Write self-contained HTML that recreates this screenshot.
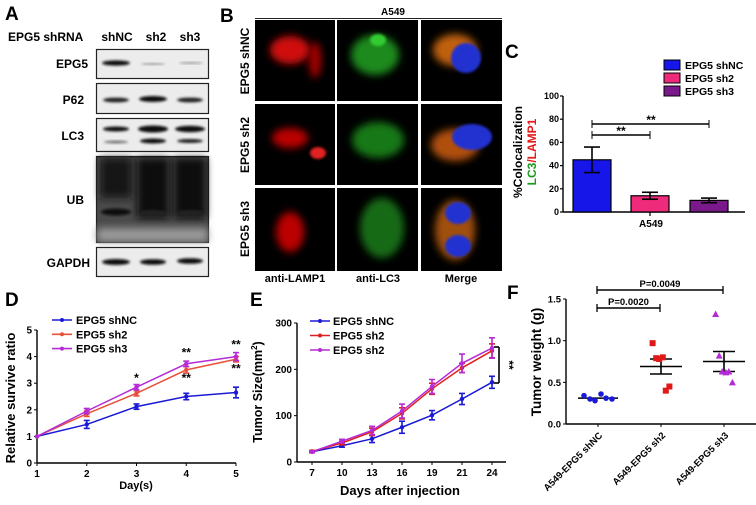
<!DOCTYPE html>
<html><head><meta charset="utf-8"><style>
html,body{margin:0;padding:0;background:#fff;}
svg{display:block;font-family:"Liberation Sans",Arial,sans-serif;}
text{font-weight:bold;}
</style></head><body>
<svg id="fig" width="756" height="505" viewBox="0 0 756 505" xmlns="http://www.w3.org/2000/svg">
<defs>
<filter id="bl" x="-50%" y="-50%" width="200%" height="200%"><feGaussianBlur stdDeviation="4"/></filter>
<filter id="bl2" x="-50%" y="-50%" width="200%" height="200%"><feGaussianBlur stdDeviation="1.2"/></filter>
<filter id="bl3" x="-20%" y="-20%" width="140%" height="140%"><feGaussianBlur stdDeviation="6"/></filter>
</defs>

<!-- Panel A -->
<g>
<text x="5" y="20" font-size="19">A</text>
<text x="8" y="41" font-size="12">EPG5 shRNA</text>
<text x="117" y="41" font-size="12" text-anchor="middle">shNC</text>
<text x="156" y="41" font-size="12" text-anchor="middle">sh2</text>
<text x="190" y="41" font-size="12" text-anchor="middle">sh3</text>
<g font-size="12" text-anchor="end">
<text x="88" y="68">EPG5</text>
<text x="84" y="104">P62</text>
<text x="84" y="140">LC3</text>
<text x="84" y="204">UB</text>
<text x="90" y="267">GAPDH</text>
</g>
<g><rect x="96.5" y="49.5" width="112" height="29" fill="#ececec" stroke="#222" stroke-width="1.2"/>
<ellipse cx="116" cy="63" rx="14" ry="2.6" fill="#111" filter="url(#bl2)"/><ellipse cx="153" cy="64" rx="12" ry="1" fill="#999" filter="url(#bl2)"/><ellipse cx="191" cy="63" rx="12" ry="1" fill="#999" filter="url(#bl2)"/></g>
<g><rect x="96.5" y="83.5" width="112" height="30" fill="#ececec" stroke="#222" stroke-width="1.2"/>
<ellipse cx="116" cy="100" rx="13" ry="2.4" fill="#222" filter="url(#bl2)"/><ellipse cx="153" cy="99" rx="14" ry="3" fill="#111" filter="url(#bl2)"/><ellipse cx="190" cy="100" rx="13" ry="2.4" fill="#222" filter="url(#bl2)"/></g>
<g><rect x="96.5" y="118.5" width="112" height="33" fill="#ececec" stroke="#222" stroke-width="1.2"/>
<ellipse cx="116" cy="129" rx="13" ry="2.5" fill="#111" filter="url(#bl2)"/><ellipse cx="116" cy="142" rx="12" ry="1.5" fill="#777" filter="url(#bl2)"/>
<ellipse cx="153" cy="129" rx="15" ry="3.5" fill="#111" filter="url(#bl2)"/><ellipse cx="153" cy="141" rx="13" ry="2.5" fill="#111" filter="url(#bl2)"/>
<ellipse cx="190" cy="129" rx="15" ry="3.2" fill="#111" filter="url(#bl2)"/><ellipse cx="190" cy="141" rx="13" ry="2" fill="#222" filter="url(#bl2)"/></g>
<g><rect x="96.5" y="156.5" width="112" height="86" fill="#4a4a4a" stroke="#222" stroke-width="1.2"/>
<rect x="100" y="158" width="32" height="40" fill="#181818" filter="url(#bl)"/><rect x="137" y="158" width="32" height="60" fill="#080808" filter="url(#bl)"/><rect x="174" y="158" width="32" height="60" fill="#080808" filter="url(#bl)"/>
<rect x="97" y="228" width="111" height="14" fill="#9a9a9a" filter="url(#bl)"/>
<ellipse cx="116" cy="212" rx="15" ry="3.5" fill="#111" filter="url(#bl2)"/><ellipse cx="153" cy="213" rx="15" ry="3" fill="#222" filter="url(#bl2)"/><ellipse cx="190" cy="213" rx="15" ry="3" fill="#222" filter="url(#bl2)"/></g>
<g><rect x="96.5" y="247.5" width="112" height="29" fill="#ececec" stroke="#222" stroke-width="1.2"/>
<ellipse cx="116" cy="262" rx="14" ry="3" fill="#111" filter="url(#bl2)"/><ellipse cx="153" cy="262" rx="13" ry="2.8" fill="#111" filter="url(#bl2)"/><ellipse cx="190" cy="261" rx="13" ry="2.8" fill="#111" filter="url(#bl2)"/></g>
</g>

<!-- Panel B -->
<g>
<text x="220" y="22" font-size="19">B</text>
<text x="393" y="15" font-size="10" text-anchor="middle">A549</text>
<line x1="255" y1="18.5" x2="502" y2="18.5" stroke="#222" stroke-width="1"/>
<g font-size="12">
<text transform="translate(249,61) rotate(-90)" text-anchor="middle">EPG5 shNC</text>
<text transform="translate(249,145) rotate(-90)" text-anchor="middle">EPG5 sh2</text>
<text transform="translate(249,229) rotate(-90)" text-anchor="middle">EPG5 sh3</text>
</g>
<g>
<rect x="255" y="20" width="80" height="81" fill="#000"/><rect x="337" y="20" width="81" height="81" fill="#000"/><rect x="421" y="20" width="81" height="81" fill="#000"/>
<rect x="255" y="104" width="80" height="81" fill="#000"/><rect x="337" y="104" width="81" height="81" fill="#000"/><rect x="421" y="104" width="81" height="81" fill="#000"/>
<rect x="255" y="188" width="80" height="83" fill="#000"/><rect x="337" y="188" width="81" height="83" fill="#000"/><rect x="421" y="188" width="81" height="83" fill="#000"/>
<ellipse cx="290" cy="50" rx="20" ry="14" fill="#d01010" filter="url(#bl)"/><ellipse cx="315" cy="60" rx="6" ry="18" fill="#a00" filter="url(#bl)"/>
<ellipse cx="375" cy="55" rx="24" ry="20" fill="#1a8a1a" filter="url(#bl)"/><ellipse cx="378" cy="40" rx="8" ry="6" fill="#3c3" filter="url(#bl2)"/>
<ellipse cx="455" cy="50" rx="22" ry="16" fill="#c06010" filter="url(#bl)"/><ellipse cx="466" cy="58" rx="15" ry="15" fill="#2030d0" filter="url(#bl2)"/>
<ellipse cx="290" cy="138" rx="18" ry="10" fill="#b00" filter="url(#bl)"/><ellipse cx="318" cy="153" rx="8" ry="6" fill="#e02020" filter="url(#bl2)"/>
<ellipse cx="378" cy="140" rx="26" ry="18" fill="#167816" filter="url(#bl)"/>
<ellipse cx="455" cy="145" rx="24" ry="16" fill="#b05010" filter="url(#bl)"/><ellipse cx="472" cy="137" rx="20" ry="13" fill="#2030d0" filter="url(#bl2)"/>
<ellipse cx="290" cy="232" rx="14" ry="20" fill="#b00" filter="url(#bl)"/>
<ellipse cx="382" cy="228" rx="22" ry="30" fill="#146a14" filter="url(#bl)"/>
<ellipse cx="455" cy="230" rx="20" ry="30" fill="#a05010" filter="url(#bl)"/><ellipse cx="458" cy="213" rx="13" ry="11" fill="#2030d0" filter="url(#bl2)"/><ellipse cx="458" cy="246" rx="13" ry="11" fill="#2030d0" filter="url(#bl2)"/>
</g>
<g font-size="11" text-anchor="middle">
<text x="295" y="282">anti-LAMP1</text>
<text x="378" y="282">anti-LC3</text>
<text x="461" y="282">Merge</text>
</g>
</g>

<text x="505" y="58" font-size="19">C</text>
<text x="5" y="306" font-size="19">D</text>
<text x="250" y="306" font-size="19">E</text>
<text x="507" y="299" font-size="19">F</text>
<g id="charts"></g>
</svg>
<script>
// ---- Panel C data
const cCats = ["EPG5 shNC","EPG5 sh2","EPG5 sh3"];
const cMeans = [45, 14, 10];
const cErr = [11, 3, 2];
const cTicks = [0,20,40,60,80,100];
// ---- Panel D data
const dDays = [1,2,3,4,5];
const dNC = [1,1.45,2.12,2.5,2.65];
const dNCerr = [0,0.15,0.1,0.12,0.2];
const dSh2 = [1,1.85,2.62,3.5,3.9];
const dSh2err = [0,0.1,0.1,0.12,0.1];
const dSh3 = [1,1.95,2.85,3.73,4.0];
const dSh3err = [0,0.1,0.1,0.1,0.15];
const dTicks = [0,1,2,3,4,5];
// ---- Panel E data
const eDays = ["7","10","13","16","19","21","24"];
const eNC = [22,35,50,75,101,136,172];
const eNCerr = [2,3,8,13,10,12,13];
const eSh2 = [23,41,65,105,158,203,240];
const eSh2err = [2,4,8,12,12,10,15];
const eSh3 = [22,45,68,110,163,213,246];
const eSh3err = [2,4,9,15,15,20,22];
const eTicks = [0,100,200,300];
// ---- Panel F data
const fCats = ["A549-EPG5 shNC","A549-EPG5 sh2","A549-EPG5 sh3"];
const fNC = [0.34,0.3,0.28,0.36,0.31,0.3];
const fSh2 = [0.97,0.79,0.78,0.8,0.4,0.45];
const fSh3 = [1.32,0.82,0.63,0.62,0.63,0.5];
const fMeans = [0.31,0.69,0.75];
const fSem = [0.01,0.09,0.12];
const fTicks = ["0.0","0.5","1.0","1.5"];

const NS="http://www.w3.org/2000/svg";
const root=document.getElementById('charts');
function el(tag,attrs,parent,txt){const e=document.createElementNS(NS,tag);for(const k in attrs)e.setAttribute(k,attrs[k]);if(txt!==undefined)e.textContent=txt;(parent||root).appendChild(e);return e;}
function grp(name){const g=document.createElementNS(NS,'g');


root.appendChild(g);return g;}
function errbar(g,x,y1,y2,w,c){el('line',{x1:x,y1:y1,x2:x,y2:y2,stroke:c,'stroke-width':1.6},g);el('line',{x1:x-w,y1:y1,x2:x+w,y2:y1,stroke:c,'stroke-width':1.6},g);el('line',{x1:x-w,y1:y2,x2:x+w,y2:y2,stroke:c,'stroke-width':1.6},g);}

// ===== Panel C
(function(){
const g=grp('panel-c-bar-chart');
const x0=563,x1=745,yb=212,yt=96;
const y=v=>yb-(v/100)*(yb-yt);
const cx=[592,650,709], bw=38;
const cols=['#1616e8','#ee2a7b','#7a1a8a'];
el('line',{x1:x0,y1:yt,x2:x0,y2:yb,stroke:'#000','stroke-width':1.4},g);
el('line',{x1:x0,y1:yb,x2:x1,y2:yb,stroke:'#000','stroke-width':1.4},g);
cTicks.forEach(t=>{el('line',{x1:x0-3,y1:y(t),x2:x0,y2:y(t),stroke:'#000','stroke-width':1.2},g);
const tx=el('text',{x:x0-4,y:y(t)+3,'font-size':9,'text-anchor':'end'},g,String(t));

});
el('line',{x1:650,y1:yb,x2:650,y2:yb+4,stroke:'#000','stroke-width':1.2},g);
const xl=el('text',{x:651,y:227,'font-size':10,'text-anchor':'middle'},g,'A549');


cMeans.forEach((v,i)=>{const r=el('rect',{x:cx[i]-bw/2,y:y(v),width:bw,height:yb-y(v),fill:cols[i],stroke:'#000','stroke-width':1.2},g);


errbar(g,cx[i],y(v+cErr[i]),y(v-cErr[i]),8,'#000');});
el('line',{x1:cx[0],y1:135,x2:cx[1],y2:135,stroke:'#000','stroke-width':1.4},g);el('line',{x1:cx[0],y1:131,x2:cx[0],y2:139,stroke:'#000'},g);el('line',{x1:cx[1],y1:131,x2:cx[1],y2:139,stroke:'#000'},g);
el('text',{x:621,y:135,'font-size':12,'text-anchor':'middle'},g,'**');
el('line',{x1:cx[0],y1:124,x2:cx[2],y2:124,stroke:'#000','stroke-width':1.4},g);el('line',{x1:cx[0],y1:120,x2:cx[0],y2:128,stroke:'#000'},g);el('line',{x1:cx[2],y1:120,x2:cx[2],y2:128,stroke:'#000'},g);
el('text',{x:651,y:124,'font-size':12,'text-anchor':'middle'},g,'**');
const t1=el('text',{transform:'translate(522,152) rotate(-90)','font-size':12,'text-anchor':'middle'},g,'%Colocalization');


const t2=el('text',{transform:'translate(536,152) rotate(-90)','font-size':12,'text-anchor':'middle'},g);
el('tspan',{fill:'#1a9a1a'},t2,'LC3');el('tspan',{fill:'#e21a1a'},t2,'/LAMP1');


cCats.forEach((c,i)=>{const ly=60+i*13;el('rect',{x:664,y:ly,width:16,height:10,fill:cols[i],stroke:'#000'},g);
const lt=el('text',{x:685,y:ly+9,'font-size':10.5},g,c);

});
})();

// ===== Panel D
(function(){
const g=grp('panel-d-line-chart');
const x0=37,x1=236,yb=463,yt=330;
const x=d=>x0+(d-1)/4*(x1-x0);const y=v=>yb-v/5*(yb-yt);
el('line',{x1:x0,y1:yt,x2:x0,y2:yb,stroke:'#000','stroke-width':1.4},g);
el('line',{x1:x0,y1:yb,x2:x1,y2:yb,stroke:'#000','stroke-width':1.4},g);
dTicks.forEach(t=>{el('line',{x1:x0-3,y1:y(t),x2:x0,y2:y(t),stroke:'#000'},g);const tx=el('text',{x:x0-5,y:y(t)+3.5,'font-size':10,'text-anchor':'end'},g,String(t));

});
dDays.forEach(d=>{el('line',{x1:x(d),y1:yb,x2:x(d),y2:yb+3,stroke:'#000'},g);const tx=el('text',{x:x(d),y:yb+14,'font-size':10,'text-anchor':'middle'},g,String(d));

});
const series=[[dNC,dNCerr,'#1a1ad6','circle','EPG5 shNC'],[dSh2,dSh2err,'#e8503a','square','EPG5 sh2'],[dSh3,dSh3err,'#b52bd6','tri','EPG5 sh3']];
series.forEach((s,si)=>{const [v,e,c,m,name]=s;
const pl=el('polyline',{points:v.map((val,i)=>x(dDays[i])+','+y(val)).join(' '),fill:'none',stroke:c,'stroke-width':1.5},g);


v.forEach((val,i)=>{if(e[i])errbar(g,x(dDays[i]),y(val+e[i]),y(val-e[i]),3,c);el('circle',{cx:x(dDays[i]),cy:y(val),r:2.2,fill:c},g);});
const ly=320+si*14.3;el('line',{x1:52,y1:ly,x2:72,y2:ly,stroke:c,'stroke-width':1.6},g);el('circle',{cx:62,cy:ly,r:2,fill:c},g);
const lt=el('text',{x:76,y:ly+4,'font-size':11},g,name);

});
el('text',{x:x(3),y:y(3.05),'font-size':12,'text-anchor':'middle'},g,'*');
el('text',{x:x(4),y:y(4.0),'font-size':12,'text-anchor':'middle'},g,'**');
el('text',{x:x(4),y:y(3.05),'font-size':12,'text-anchor':'middle'},g,'**');
el('text',{x:x(5),y:y(4.3),'font-size':12,'text-anchor':'middle'},g,'**');
el('text',{x:x(5),y:y(3.4),'font-size':12,'text-anchor':'middle'},g,'**');
const yt2=el('text',{transform:'translate(15,398) rotate(-90)','font-size':13,'text-anchor':'middle'},g,'Relative survive ratio');


const xt=el('text',{x:136,y:489,'font-size':11,'text-anchor':'middle'},g,'Day(s)');


})();

// ===== Panel E
(function(){
const g=grp('panel-e-line-chart');
const x0=297,x1=506,yb=462,yt=323,xa=312,xb=492;
const x=i=>xa+i*(xb-xa)/(eDays.length-1);const y=v=>yb-v/300*(yb-yt);
el('line',{x1:x0,y1:yt,x2:x0,y2:yb,stroke:'#000','stroke-width':1.4},g);
el('line',{x1:x0,y1:yb,x2:x1,y2:yb,stroke:'#000','stroke-width':1.4},g);
eTicks.forEach(t=>{el('line',{x1:x0-3,y1:y(t),x2:x0,y2:y(t),stroke:'#000'},g);const tx=el('text',{x:x0-5,y:y(t)+3.5,'font-size':10,'text-anchor':'end'},g,String(t));

});
eDays.forEach((d,i)=>{el('line',{x1:x(i),y1:yb,x2:x(i),y2:yb+3,stroke:'#000'},g);const tx=el('text',{x:x(i),y:yb+14,'font-size':10,'text-anchor':'middle'},g,d);

});
const series=[[eNC,eNCerr,'#1a1ad6','EPG5 shNC'],[eSh2,eSh2err,'#e02020','EPG5 sh2'],[eSh3,eSh3err,'#b52bd6','EPG5 sh2']];
series.forEach((s,si)=>{const [v,e,c,name]=s;
const pl=el('polyline',{points:v.map((val,i)=>x(i)+','+y(val)).join(' '),fill:'none',stroke:c,'stroke-width':1.5},g);


v.forEach((val,i)=>{errbar(g,x(i),y(val+e[i]),y(val-e[i]),3,c);el('circle',{cx:x(i),cy:y(val),r:2.2,fill:c},g);});
const ly=321+si*14.5;el('line',{x1:310,y1:ly,x2:330,y2:ly,stroke:c,'stroke-width':1.6},g);el('circle',{cx:320,cy:ly,r:2,fill:c},g);
const lt=el('text',{x:333,y:ly+4,'font-size':11},g,name);

});
el('line',{x1:499,y1:347,x2:499,y2:383,stroke:'#000','stroke-width':1.6},g);el('line',{x1:494,y1:347,x2:499,y2:347,stroke:'#000','stroke-width':1.6},g);el('line',{x1:494,y1:383,x2:499,y2:383,stroke:'#000','stroke-width':1.6},g);
el('text',{transform:'translate(505,365) rotate(90)','font-size':12,'text-anchor':'middle'},g,'**');
const yt2=el('text',{transform:'translate(262,392) rotate(-90)','font-size':12.5,'text-anchor':'middle'},g);
yt2.appendChild(document.createTextNode('Tumor Size(mm'));el('tspan',{'font-size':8,dy:-5},yt2,'2');el('tspan',{dy:5},yt2,')');


const xt=el('text',{x:400,y:495,'font-size':13,'text-anchor':'middle'},g,'Days after injection');


})();

// ===== Panel F
(function(){
const g=grp('panel-f-scatter-chart');
const x0=566,x1=756,yb=424,yt=299;
const cx=[598,661,724];const y=v=>yb-v/1.5*(yb-yt);
el('line',{x1:x0,y1:yt,x2:x0,y2:yb,stroke:'#000','stroke-width':1.4},g);
el('line',{x1:x0,y1:yb,x2:x1,y2:yb,stroke:'#000','stroke-width':1.4},g);
fTicks.forEach(t=>{const v=parseFloat(t);el('line',{x1:x0-3,y1:y(v),x2:x0,y2:y(v),stroke:'#000'},g);const tx=el('text',{x:x0-5,y:y(v)+3.5,'font-size':9.5,'text-anchor':'end'},g,t);

});
fCats.forEach((c,i)=>{el('line',{x1:cx[i],y1:yb,x2:cx[i],y2:yb+3,stroke:'#000'},g);
const tx=el('text',{transform:'translate('+(cx[i]+5)+','+(yb+12)+') rotate(-45)','font-size':9.5,'text-anchor':'end'},g,c);

});
const groups=[[fNC,'#1a1ad6','circle'],[fSh2,'#e01818','square'],[fSh3,'#b52bd6','tri']];
const off=[-14,-8,-3,3,8,14];
groups.forEach((gr,i)=>{const [v,c,m]=gr;
const hw=i===0?20:21;
el('line',{x1:cx[i]-hw,y1:y(fMeans[i]),x2:cx[i]+hw,y2:y(fMeans[i]),stroke:'#000','stroke-width':1.5},g);
if(i>0)errbar(g,cx[i],y(fMeans[i]+fSem[i]),y(fMeans[i]-fSem[i]),11,'#000');
v.forEach((val,k)=>{const px=cx[i]+off[k]*(i===0?1:0.6),py=y(val);let mk;
if(m==='circle')mk=el('circle',{cx:px,cy:py,r:2.8,fill:c},g);
else if(m==='square')mk=el('rect',{x:px-3,y:py-3,width:6,height:6,fill:c},g);
else mk=el('polygon',{points:(px)+','+(py-3.5)+' '+(px-3.5)+','+(py+3)+' '+(px+3.5)+','+(py+3),fill:c},g);

});});
function br(xa,xb,yy,lab){el('line',{x1:xa,y1:yy,x2:xb,y2:yy,stroke:'#000','stroke-width':1.5},g);el('line',{x1:xa,y1:yy-4,x2:xa,y2:yy+4,stroke:'#000','stroke-width':1.3},g);el('line',{x1:xb,y1:yy-4,x2:xb,y2:yy+4,stroke:'#000','stroke-width':1.3},g);
const t=el('text',{x:(xa+xb)/2,y:yy-3,'font-size':9.5,'text-anchor':'middle'},g,lab);

}
br(597,723,290,'P=0.0049');br(597,660,308,'P=0.0020');
const yt2=el('text',{transform:'translate(541,362) rotate(-90)','font-size':13.5,'text-anchor':'middle'},g,'Tumor weight (g)');


})();
</script>
</body></html>
